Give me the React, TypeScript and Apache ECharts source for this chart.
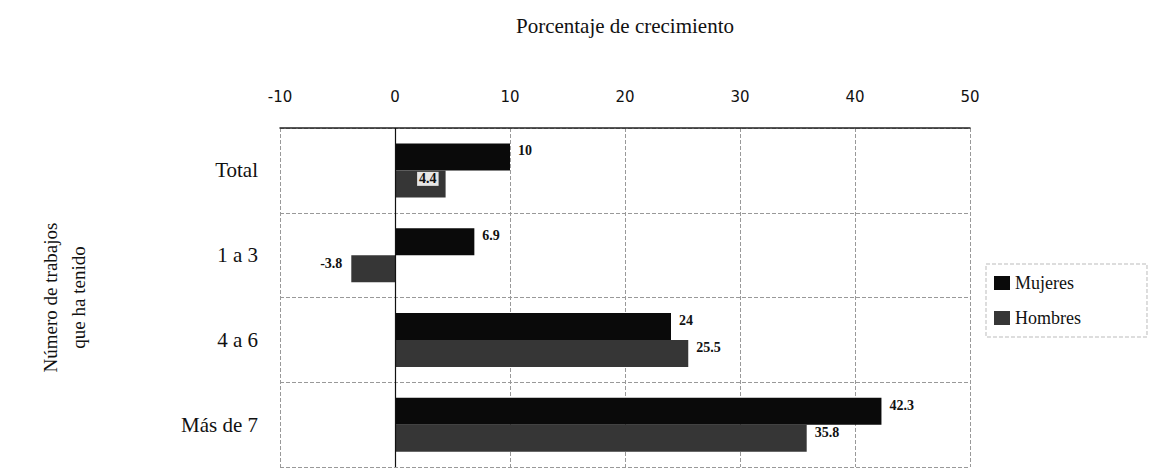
import React, { useEffect, useRef } from "react";
import * as echarts from "echarts";

const categories = ["Total", "1 a 3", "4 a 6", "Más de 7"];
const mujeres = [10, 6.9, 24, 42.3];
const hombres = [4.4, -3.8, 25.5, 35.8];
const xMin = -10;
const xMax = 50;
const xStep = 10;
const xTitle = "Porcentaje de crecimiento";
const yTitle = "Número de trabajos\nque ha tenido";

export default function App() {
  const ref = useRef<HTMLDivElement>(null);
  useEffect(() => {
    if (!ref.current) return;
    const chart = echarts.init(ref.current, null, { renderer: "svg" });
    const serif = "Liberation Serif";
    const hombresData = hombres.map((v, i) => {
      if (v < 0) {
        return { value: v, label: { position: "left", offset: [-4, -5] } };
      }
      if (i === 0) {
        return {
          value: v,
          label: { position: "insideRight", offset: [-2, -5], backgroundColor: "#e6e6e6", padding: [0, 2] },
        };
      }
      return { value: v };
    });
    chart.setOption({
      animation: false,
      backgroundColor: "#fff",
      textStyle: { fontFamily: serif },
      grid: { left: 280, right: 183, top: 128, bottom: 4, containLabel: false },
      legend: {
        data: ["Mujeres", "Hombres"],
        orient: "vertical",
        left: 986,
        top: 264,
        icon: "rect",
        itemWidth: 16,
        itemHeight: 14,
        itemGap: 17,
        padding: [10, 66, 10, 8],
        borderColor: "#bbb",
        borderWidth: 1,
        borderType: "dashed",
        textStyle: { fontFamily: serif, fontSize: 18, color: "#111" },
      },
      xAxis: {
        type: "value",
        position: "top",
        min: xMin,
        max: xMax,
        interval: xStep,
        name: xTitle,
        nameLocation: "middle",
        nameGap: 92,
        nameTextStyle: { fontFamily: serif, fontSize: 21, color: "#111" },
        axisLine: { show: true, lineStyle: { color: "#222", width: 1.5 } },
        axisTick: { show: false },
        axisLabel: { fontFamily: "DejaVu Sans", fontSize: 15, color: "#111", margin: 24 },
        splitLine: { show: true, lineStyle: { color: "#999", type: "dashed", width: 1 } },
      },
      yAxis: {
        type: "category",
        inverse: true,
        data: categories,
        name: yTitle,
        nameLocation: "middle",
        nameRotate: 90,
        nameGap: 188,
        nameTextStyle: { fontFamily: serif, fontSize: 19, color: "#111", lineHeight: 28 },
        axisLine: { show: false },
        axisTick: { show: false },
        axisLabel: { fontFamily: serif, fontSize: 21, color: "#111", margin: 22 },
        splitLine: { show: true, lineStyle: { color: "#999", type: "dashed", width: 1 } },
      },
      series: [
        {
          name: "Mujeres",
          type: "bar",
          data: mujeres,
          barWidth: 27,
          barGap: "0%",
          itemStyle: { color: "#0a0a0a" },
          label: { show: true, position: "right", offset: [3, -6], fontSize: 14, fontWeight: "bold", color: "#111", fontFamily: serif },
          markLine: {
            silent: true,
            symbol: "none",
            label: { show: false },
            lineStyle: { color: "#111", type: "solid", width: 1.2 },
            data: [{ xAxis: 0 }],
          },
        },
        {
          name: "Hombres",
          type: "bar",
          data: hombresData,
          barWidth: 27,
          barGap: "0%",
          itemStyle: { color: "#363636" },
          label: { show: true, position: "right", offset: [3, -6], fontSize: 14, fontWeight: "bold", color: "#111", fontFamily: serif },
        },
      ],
    });
    return () => chart.dispose();
  }, []);
  return <div ref={ref} style={{ position: "fixed", left: 0, top: 0, width: 1153, height: 471 }} />;
}
